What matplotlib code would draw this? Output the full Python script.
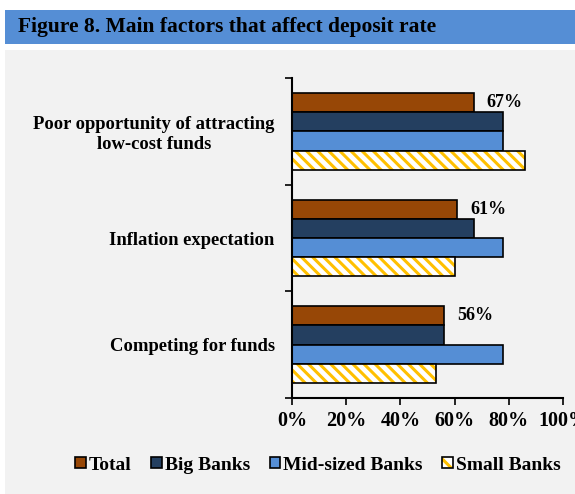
import matplotlib.pyplot as plt
import numpy as np
from matplotlib.patches import Patch, Rectangle

plt.rcParams['font.family'] = ['Liberation Serif', 'DejaVu Serif']
plt.rcParams['font.weight'] = 'bold'
plt.rcParams['hatch.linewidth'] = 2.2

# Data
categories = ['Poor opportunity of attracting\nlow-cost funds',
              'Inflation expectation',
              'Competing for funds']
series = ['Total', 'Big Banks', 'Mid-sized Banks', 'Small Banks']
total = [67, 61, 56]
big_banks = [78, 67, 56]
mid_banks = [78, 78, 78]
small_banks = [86, 60, 53]
x_ticks = [0, 20, 40, 60, 80, 100]

colors = {
    'total': '#974706',
    'big': '#243F60',
    'mid': '#558ED5',
    'small': '#FFC000',
    'panel': '#F2F2F2',
    'band': '#558ED5',
}

fig = plt.figure(figsize=(5.75, 4.94), dpi=100, facecolor='white')

# Header band and grey panel
fig.patches.append(Rectangle((5 / 575, 1 - 44 / 494), 570 / 575, 34 / 494,
                             transform=fig.transFigure, facecolor=colors['band'],
                             edgecolor='none', zorder=-2))
fig.patches.append(Rectangle((5 / 575, 0.0), 570 / 575, 1 - 50 / 494,
                             transform=fig.transFigure, facecolor=colors['panel'],
                             edgecolor='none', zorder=-2))
fig.text(18 / 575, 1 - 27 / 494, 'Figure 8. Main factors that affect deposit rate',
         fontsize=15.5, fontweight='bold', va='center', ha='left')

ax = fig.add_axes([292 / 575, 1 - 398 / 494, 271 / 575, 320 / 494])
ax.set_facecolor('none')

y = np.arange(len(categories))
h = 0.18
offsets = np.array([-1.5, -0.5, 0.5, 1.5]) * h

ax.barh(y + offsets[0], total, height=h, color=colors['total'], edgecolor='black', linewidth=1.2)
ax.barh(y + offsets[1], big_banks, height=h, color=colors['big'], edgecolor='black', linewidth=1.2)
ax.barh(y + offsets[2], mid_banks, height=h, color=colors['mid'], edgecolor='black', linewidth=1.2)
ax.barh(y + offsets[3], small_banks, height=h, color='white', edgecolor=colors['small'],
        hatch='\\\\\\', linewidth=0)
ax.barh(y + offsets[3], small_banks, height=h, fill=False, edgecolor='black', linewidth=1.2)

# Value labels for the Total series
for yi, v in zip(y, total):
    ax.text(v + 11.5, yi + offsets[0], f'{v}%', ha='center', va='center',
            fontsize=13, fontweight='bold')

ax.set_xlim(0, 100)
ax.set_ylim(2.5, -0.5)
ax.set_xticks(x_ticks)
ax.set_xticklabels([f'{t}%' for t in x_ticks], fontsize=14.5, fontweight='bold')
ax.set_yticks([-0.5, 0.5, 1.5, 2.5])
ax.set_yticklabels([])
ax.set_yticks(y, minor=True)
ax.set_yticklabels(categories, minor=True, fontsize=13.4, fontweight='bold',
                   multialignment='center')
ax.tick_params(axis='y', which='minor', length=0, pad=12.5)
ax.tick_params(axis='y', which='major', length=5, width=1.2, direction='out')
ax.tick_params(axis='x', length=5, width=1.2, direction='out', pad=4)
ax.spines['top'].set_visible(False)
ax.spines['right'].set_visible(False)
ax.spines['left'].set_linewidth(1.5)
ax.spines['bottom'].set_linewidth(1.5)

handles = [
    Patch(facecolor=colors['total'], edgecolor='black', linewidth=1.2),
    Patch(facecolor=colors['big'], edgecolor='black', linewidth=1.2),
    Patch(facecolor=colors['mid'], edgecolor='black', linewidth=1.2),
    (Patch(facecolor='white', edgecolor=colors['small'], hatch='\\\\', linewidth=0),
     Patch(fill=False, edgecolor='black', linewidth=1.2)),
]
fig.legend(handles, series, loc='center', bbox_to_anchor=(318 / 575, 1 - 465 / 494),
           ncol=4, frameon=False, handlelength=0.55, handleheight=0.55,
           handletextpad=0.15, columnspacing=1.0, prop={'weight': 'bold', 'size': 14})

plt.savefig('out.png', dpi=100, facecolor='white')
